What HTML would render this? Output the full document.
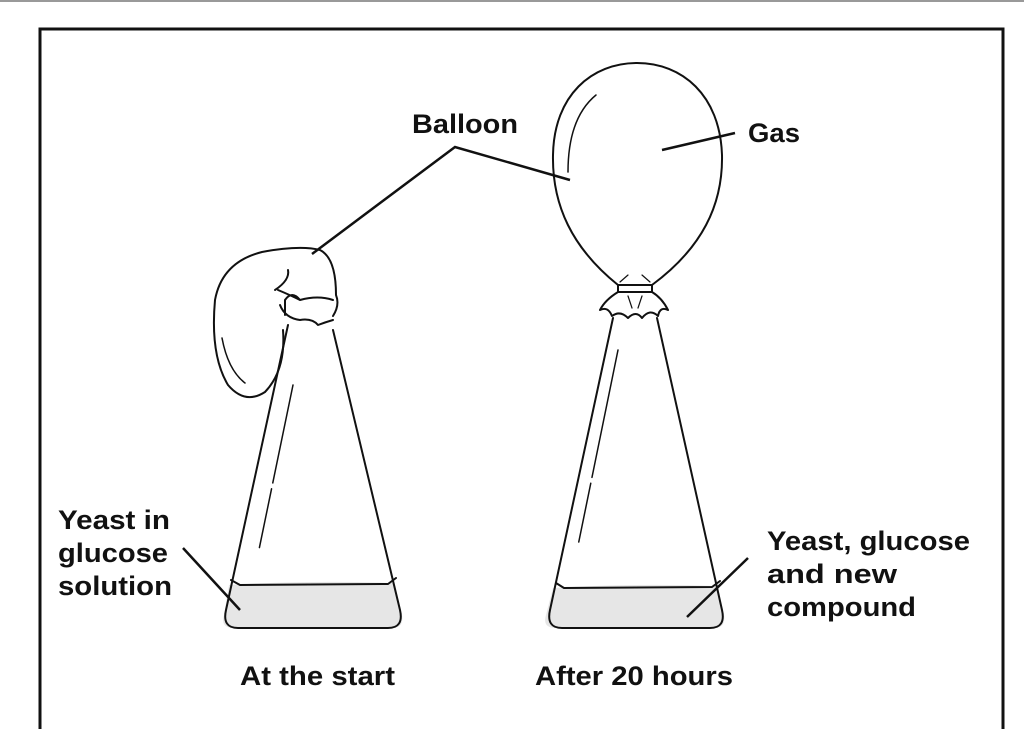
<!DOCTYPE html>
<html><head><style>
body{margin:0;width:1024px;height:729px;background:#fff;overflow:hidden;font-family:"Liberation Sans",sans-serif}
</style></head><body>
<svg width="1024" height="729" viewBox="0 0 1024 729" xmlns="http://www.w3.org/2000/svg">
<rect x="0" y="0" width="1024" height="2" fill="#999"/>
<path d="M40,729 V29 H1003 V729" fill="none" stroke="#111" stroke-width="3"/>
<g fill="none" stroke="#111" stroke-width="2" stroke-linecap="round" stroke-linejoin="round">
<path d="M229,585 Q310,580 394,583 L402,615 Q404,628 392,628 L234,628 Q220,628 224,615 Z" fill="#e6e6e6" stroke="none"/>
<path d="M288,325 L226,610 Q222,628 238,628 L388,628 Q404,628 400,610 L333,330"/>
<path d="M231,580 L240,585 L388,584 L396,578"/>
<path d="M293,385 L249,598" stroke-width="1.5" stroke-dasharray="100,6,60"/>
<path d="M283,330 Q286,370 265,392 Q245,405 228,385 Q210,355 215,300 Q222,262 262,252 Q300,245 320,250 Q336,258 336,295 Q340,305 333,316"/>
<path d="M278,290 Q290,295 300,300 Q318,295 333,300 M280,305 Q285,318 300,320 Q312,318 318,325 Q326,322 333,320 M285,315 L285,300 Q292,290 300,300"/>
<path d="M275,290 Q290,280 288,270"/>
<path d="M222,338 Q228,370 245,383" stroke-width="1.5"/>
<path d="M553,588 Q634,583 716,586 L724,615 Q726,628 714,628 L556,628 Q542,628 546,615 Z" fill="#e6e6e6" stroke="none"/>
<path d="M613,318 L550,610 Q546,628 562,628 L710,628 Q726,628 722,610 L657,318"/>
<path d="M556,583 L564,588 L712,587 L720,581"/>
<path d="M618,350 L571,580" stroke-width="1.5" stroke-dasharray="130,6,60"/>
<path d="M618,285 C572,248 552,205 553,155 C554,95 592,63 637,63 C682,63 720,95 722,155 C723,205 702,248 652,285"/>
<path d="M618,285 L652,285 L652,292 L618,292 Z"/>
<path d="M618,292 Q605,300 600,310 Q608,306 612,316 Q620,310 628,318 Q636,310 642,318 Q650,308 658,316 Q660,306 668,310 Q662,298 652,292"/>
<path d="M620,282 L628,275 M650,282 L642,275 M628,296 L632,308 M642,296 L638,308" stroke-width="1.2"/>
<path d="M596,95 Q568,118 568,172" stroke-width="1.5"/>
</g>
<g stroke="#111" stroke-width="2.5" fill="none">
<path d="M570,180 L455,147 L312,254"/>
<path d="M662,150 L735,133"/>
<path d="M183,548 L240,610"/>
<path d="M748,558 L687,617"/>
</g>
<g font-weight="bold" font-size="27" fill="#111">
<text x="412" y="133" textLength="106" lengthAdjust="spacingAndGlyphs">Balloon</text>
<text x="748" y="142" textLength="52" lengthAdjust="spacingAndGlyphs">Gas</text>
<text x="58" y="529" textLength="112" lengthAdjust="spacingAndGlyphs">Yeast in</text>
<text x="58" y="562" textLength="110" lengthAdjust="spacingAndGlyphs">glucose</text>
<text x="58" y="595" textLength="114" lengthAdjust="spacingAndGlyphs">solution</text>
<text x="767" y="550" textLength="203" lengthAdjust="spacingAndGlyphs">Yeast, glucose</text>
<text x="767" y="583" textLength="130" lengthAdjust="spacingAndGlyphs">and new</text>
<text x="767" y="616" textLength="149" lengthAdjust="spacingAndGlyphs">compound</text>
<text x="240" y="685" textLength="155" lengthAdjust="spacingAndGlyphs">At the start</text>
<text x="535" y="685" textLength="198" lengthAdjust="spacingAndGlyphs">After 20 hours</text>
</g>
</svg>
</body></html>
